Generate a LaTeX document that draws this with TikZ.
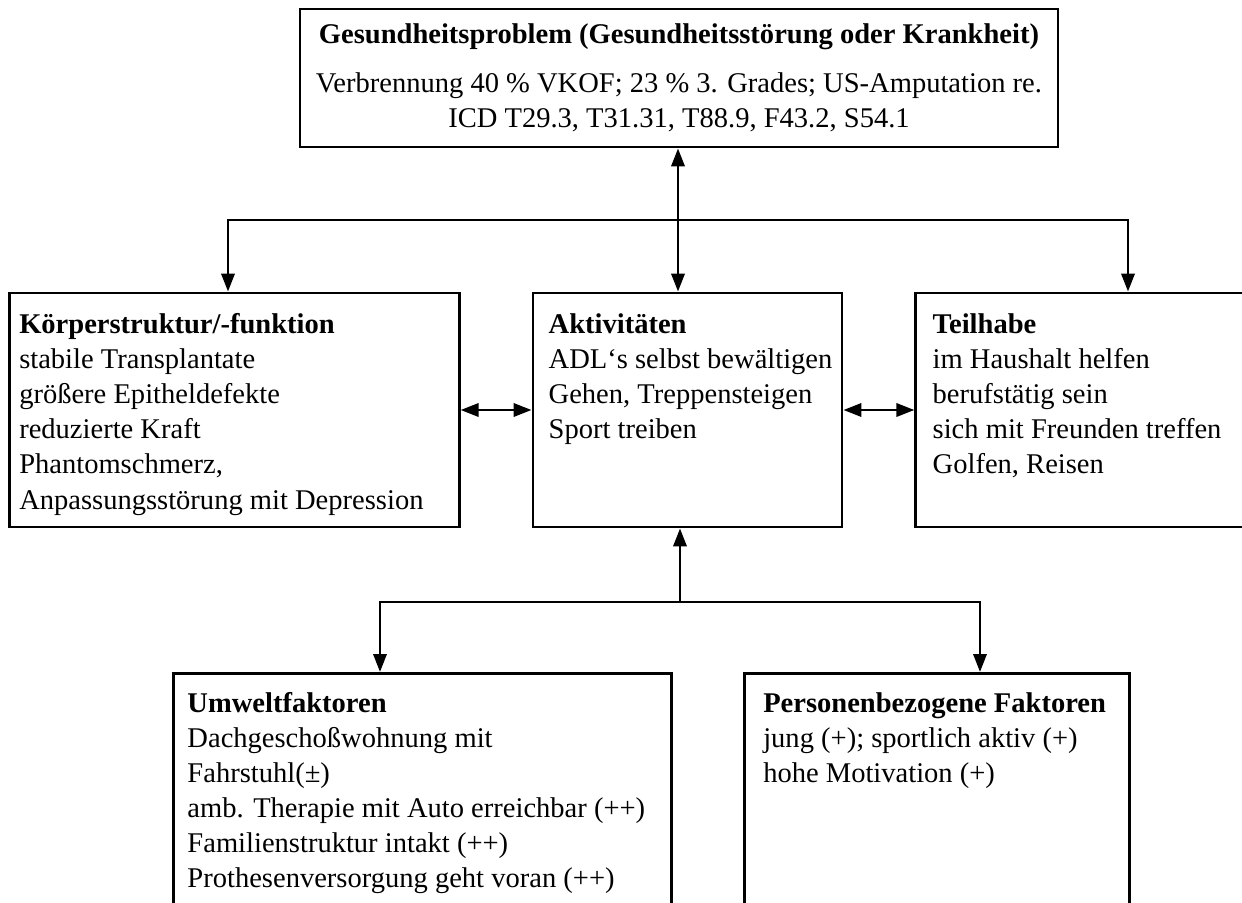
\documentclass[tikz,border=0pt]{standalone}
\usepackage{fontspec}
\setmainfont{Liberation Serif}
\usepackage{tikz}
\usetikzlibrary{arrows.meta, positioning}

\newcommand{\icffont}{\fontsize{20.3pt}{24.9pt}\selectfont}

\begin{document}
\begin{tikzpicture}[
    box/.style={rectangle, draw, line width=2pt, inner sep=0pt, font=\icffont},
    txt/.style={anchor=north west, align=left, inner sep=0pt, font=\icffont},
    arr/.style={-{Triangle[length=4.5mm, width=3.3mm]}, line width=2pt},
    dualarr/.style={{Triangle[length=4.5mm, width=3.3mm]}-{Triangle[length=4.5mm, width=3.3mm]}, line width=2pt},
]
    \useasboundingbox (0,0) rectangle (31.05,-22.575);
    \clip (0,0) rectangle (31.05,-22.575);

    % Health problem (top)
    \node[box, minimum width=18.95cm, minimum height=3.45cm, align=center] (prob) at (16.975,-1.95)
        {\textbf{Gesundheitsproblem (Gesundheitsstörung oder Krankheit)}\\[0.35cm]
         Verbrennung 40 \% VKOF; 23 \% 3. Grades; US-Amputation re.\\
         ICD T29.3, T31.31, T88.9, F43.2, S54.1};

    % Middle row
    \node[box, minimum width=7.725cm, minimum height=5.85cm] (aktiv) at (17.1875,-10.25) {};
    \node[box, minimum width=11.25cm, minimum height=5.85cm, left=1.775cm of aktiv] (koerper) {};
    \node[box, minimum width=9cm, minimum height=5.85cm, right=1.775cm of aktiv] (teilhabe) {};

    \node[txt] (koerpertext) at ([xshift=0.28cm, yshift=-0.55cm]koerper.north west)
        {\textbf{Körperstruktur/-funktion}\\
         stabile Transplantate\\
         größere Epitheldefekte\\
         reduzierte Kraft\\
         Phantomschmerz,\\
         Anpassungsstörung mit Depression};
    \node[txt] (aktivtext) at ([xshift=0.42cm, yshift=-0.55cm]aktiv.north west)
        {\textbf{Aktivitäten}\\
         ADL‘s selbst bewältigen\\
         Gehen, Treppensteigen\\
         Sport treiben};
    \node[txt] (teilhabetext) at ([xshift=0.45cm, yshift=-0.55cm]teilhabe.north west)
        {\textbf{Teilhabe}\\
         im Haushalt helfen\\
         berufstätig sein\\
         sich mit Freunden treffen\\
         Golfen, Reisen};

    % Context factors (bottom)
    \node[box, anchor=north west, minimum width=12.45cm, minimum height=6cm] (umwelt) at (4.3,-16.8) {};
    \node[box, anchor=north west, minimum width=9.625cm, minimum height=6cm] (personen) at (18.575,-16.8) {};

    \node[txt] (umwelttext) at ([xshift=0.38cm, yshift=-0.5cm]umwelt.north west)
        {\textbf{Umweltfaktoren}\\
         Dachgeschoßwohnung mit\\
         Fahrstuhl(±)\\
         amb. Therapie mit Auto erreichbar (++)\\
         Familienstruktur intakt (++)\\
         Prothesenversorgung geht voran (++)};
    \node[txt] (personentext) at ([xshift=0.5cm, yshift=-0.5cm]personen.north west)
        {\textbf{Personenbezogene Faktoren}\\
         jung (+); sportlich aktiv (+)\\
         hohe Motivation (+)};

    % Branch points
    \coordinate (topjoin) at (16.95,-5.5);
    \coordinate (topleft) at (5.7,-5.5);
    \coordinate (topright) at (28.2,-5.5);
    \coordinate (botjoin) at (17.0,-15.05);
    \coordinate (botleft) at (9.5,-15.05);
    \coordinate (botright) at (24.5,-15.05);

    % Arrows: problem to middle row
    \draw[dualarr] (prob.south -| topjoin) -- (aktiv.north -| topjoin);
    \draw[arr] (topjoin) -| (koerper.north -| topleft);
    \draw[arr] (topjoin) -| (teilhabe.north -| topright);

    % Arrows: within middle row
    \draw[dualarr] (koerper) -- (aktiv);
    \draw[dualarr] (aktiv) -- (teilhabe);

    % Arrows: context factors
    \draw[arr] (botjoin) -- (aktiv.south -| botjoin);
    \draw[arr] (botjoin) -| (umwelt.north -| botleft);
    \draw[arr] (botjoin) -| (personen.north -| botright);
\end{tikzpicture}
\end{document}
